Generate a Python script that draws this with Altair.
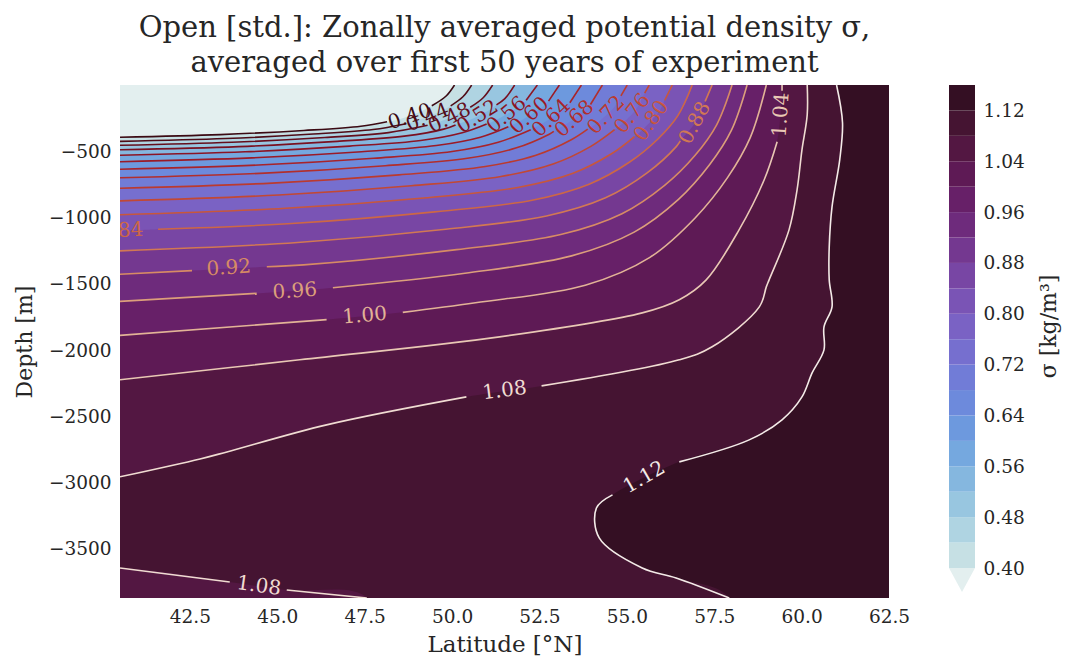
import altair as alt
import pandas as pd

FONT = "DejaVu Serif"
TEXT_COLOR = "#262626"

LAT_RANGE = [40.5, 62.5]
DEPTH_RANGE = [-3870, 0]

XTICKS = [42.5, 45.0, 47.5, 50.0, 52.5, 55.0, 57.5, 60.0, 62.5]
YTICKS = [-500, -1000, -1500, -2000, -2500, -3000, -3500]

LEVELS = ["0.40", "0.44", "0.48", "0.52", "0.56", "0.60", "0.64", "0.68", "0.72", "0.76",
          "0.80", "0.84", "0.88", "0.92", "0.96", "1.00", "1.04", "1.08", "1.12"]
LEVEL_VALUES = [0.40, 0.44, 0.48, 0.52, 0.56, 0.60, 0.64, 0.68, 0.72, 0.76,
                0.80, 0.84, 0.88, 0.92, 0.96, 1.00, 1.04, 1.08, 1.12]
TOP_LEVEL = 1.16
CB_TICKS = [0.40, 0.48, 0.56, 0.64, 0.72, 0.80, 0.88, 0.96, 1.04, 1.12]

# fill of the band just above each level (0.40-0.44 ... 1.12-1.16)
BAND_COLORS = ["#c6e0e4", "#afd4e2", "#98c6e0", "#85b7df", "#75a8df", "#6d99de",
               "#6d8adc", "#717cd7", "#766fcf", "#7a62c4", "#7a54b5", "#7846a4",
               "#743890", "#6e2b7c", "#672068", "#5e1a55", "#531742", "#451432",
               "#340f23"]
UNDER_COLOR = "#e3efef"

LINE_COLORS = ["#3b0a13", "#4f0c17", "#650e1c", "#7a1020", "#8c1424", "#9b1a27",
               "#a8232a", "#b22e2c", "#bb3a2f", "#c24834", "#c8573b", "#cd6745",
               "#d27853", "#d78b64", "#dc9f7b", "#e2b396", "#e9c8b4", "#f0dcd2",
               "#f4ebe8"]

# contour paths (latitude, depth); each gap (i, j) leaves the path undrawn
# between point i and point j, where the inline label sits
CONTOURS = [
    {"level": "0.40", "gaps": [(4, 7)], "points": [
        (40.5, -394), (43.37, -374), (45.76, -343), (47.39, -311), (48.14, -277),
        (48.35, -268), (49.02, -209), (49.42, -157), (49.83, -83), (50.07, 0)]},
    {"level": "0.44", "gaps": [(4, 7)], "points": [
        (40.5, -425), (43.52, -404), (46.03, -370), (47.74, -336), (48.65, -294),
        (48.75, -289), (49.45, -225), (49.96, -157), (50.31, -89), (50.56, 0)]},
    {"level": "0.48", "gaps": [(4, 6)], "points": [
        (40.5, -455), (43.70, -432), (46.36, -396), (48.18, -359), (49.30, -304),
        (49.99, -241), (50.52, -168), (50.89, -96), (51.16, 0)]},
    {"level": "0.52", "gaps": [(5, 8)], "points": [
        (40.5, -489), (43.89, -465), (46.71, -425), (48.63, -386), (49.76, -333),
        (50.10, -301), (50.55, -259), (51.11, -181), (51.27, -150), (51.51, -103),
        (51.79, 0)]},
    {"level": "0.56", "gaps": [(5, 8)], "points": [
        (40.5, -530), (44.08, -504), (47.07, -461), (49.10, -419), (50.29, -360),
        (50.99, -294), (51.13, -281), (51.72, -196), (52.12, -115), (52.44, 0)]},
    {"level": "0.60", "gaps": [(5, 8)], "points": [
        (40.5, -579), (44.27, -550), (47.41, -504), (49.55, -457), (50.81, -394),
        (51.61, -315), (51.69, -307), (52.32, -214), (52.76, -122), (53.07, 0)]},
    {"level": "0.64", "gaps": [(5, 7)], "points": [
        (40.5, -636), (44.46, -604), (47.76, -553), (50.00, -502), (51.32, -432),
        (52.25, -337), (52.91, -235), (53.37, -134), (53.70, 0)]},
    {"level": "0.68", "gaps": [(6, 8)], "points": [
        (40.5, -700), (44.64, -665), (48.09, -609), (50.44, -553), (51.82, -476),
        (52.78, -371), (52.91, -350), (53.47, -259), (53.96, -147), (54.30, 0)]},
    {"level": "0.72", "gaps": [(6, 9)], "points": [
        (40.5, -779), (44.85, -740), (48.48, -678), (50.95, -615), (52.40, -530),
        (53.41, -413), (53.88, -333), (54.14, -288), (54.65, -164), (54.83, -82),
        (55.01, 0)]},
    {"level": "0.76", "gaps": [(6, 9)], "points": [
        (40.5, -874), (45.04, -830), (48.83, -760), (51.40, -690), (52.91, -594),
        (53.97, -463), (54.65, -337), (54.73, -323), (55.26, -184), (55.51, -61),
        (55.64, 0)]},
    {"level": "0.80", "gaps": [(6, 9)], "points": [
        (40.5, -979), (45.24, -930), (49.19, -852), (51.88, -773), (53.46, -666),
        (54.56, -519), (55.22, -389), (55.35, -362), (55.91, -206), (56.08, -117),
        (56.30, 0)]},
    {"level": "0.84", "gaps": [(0, 1)], "points": [
        (40.5, -1100), (41.59, -1088), (45.41, -1045), (49.50, -957), (52.29, -869),
        (53.92, -748), (55.07, -583), (55.89, -407), (56.46, -231), (56.87, 0)]},
    {"level": "0.88", "gaps": [(7, 9)], "points": [
        (40.5, -1251), (45.58, -1188), (49.82, -1088), (52.70, -988), (54.39, -851),
        (55.58, -663), (56.42, -463), (56.53, -422), (57.02, -263), (57.24, -124),
        (57.44, 0)]},
    {"level": "0.92", "gaps": [(1, 2)], "points": [
        (40.5, -1428), (42.56, -1400), (44.70, -1371), (45.75, -1357), (50.13, -1242),
        (53.11, -1128), (54.86, -971), (56.08, -757), (56.96, -528), (57.57, -300),
        (58.01, 0)]},
    {"level": "0.96", "gaps": [(1, 2)], "points": [
        (40.5, -1632), (44.41, -1572), (46.59, -1529), (50.37, -1420), (53.42, -1289),
        (55.21, -1110), (56.47, -865), (57.36, -604), (57.99, -343), (58.44, 0)]},
    {"level": "1.00", "gaps": [(1, 2)], "points": [
        (40.5, -1889), (46.41, -1770), (48.59, -1715), (50.67, -1643), (53.81, -1510),
        (55.66, -1300), (56.96, -1001), (57.88, -699), (58.53, -397), (58.99, 0)]},
    {"level": "1.04", "gaps": [(8, 9)], "points": [
        (40.5, -2224), (45.64, -2073), (51.36, -1900), (55.44, -1719), (56.50, -1620),
        (57.27, -1470), (58.21, -1093), (58.93, -715), (59.30, -428), (59.44, -43),
        (59.44, 0)]},
    {"level": "1.08", "gaps": [(4, 5)], "points": [
        (40.5, -2956), (42.79, -2821), (43.56, -2768), (46.41, -2564), (50.41, -2353),
        (52.56, -2270), (56.50, -2073), (57.44, -1975), (58.79, -1674), (58.99, -1523),
        (59.07, -1470), (59.64, -1093), (59.87, -791), (60.01, -489), (60.16, -225),
        (60.16, 0)]},
    {"level": "1.08", "gaps": [(1, 2)], "points": [
        (40.5, -3644), (43.64, -3749), (45.27, -3810), (47.56, -3870)]},
    {"level": "1.12", "gaps": [(13, 14)], "points": [
        (61.00, 0), (61.17, -285), (61.09, -565), (60.87, -920), (60.79, -1222),
        (60.79, -1470), (60.87, -1674), (60.64, -1825), (60.64, -1998), (60.30, -2172),
        (60.01, -2353), (59.44, -2526), (58.50, -2677), (56.50, -2843), (54.59, -3092),
        (54.13, -3191), (54.21, -3417), (55.44, -3644), (56.41, -3719), (57.93, -3870)]},
]

# inline labels: level, latitude, depth, rotation (degrees, counter-clockwise)
LABELS = [
    ("0.40", 48.79, -240, 18), ("0.44", 49.30, -245, 22), ("0.48", 49.93, -250, 26),
    ("0.52", 50.73, -240, 32), ("0.56", 51.56, -225, 40), ("0.60", 52.21, -232, 42),
    ("0.64", 52.84, -250, 44), ("0.68", 53.50, -255, 42), ("0.72", 54.41, -228, 47),
    ("0.76", 55.16, -215, 52), ("0.80", 55.70, -270, 55), ("0.84", 40.53, -1100, 3),
    ("0.88", 56.95, -286, 62), ("0.92", 43.61, -1380, 4), ("0.96", 45.50, -1556, 4),
    ("1.00", 47.50, -1740, 5), ("1.04", 59.41, -225, 86), ("1.08", 51.50, -2305, 7),
    ("1.12", 55.50, -2960, 30), ("1.08", 44.47, -3779, -8),
]

lat_min, lat_max = LAT_RANGE
depth_min, depth_max = DEPTH_RANGE
# outline corners are pushed beyond the clipped frame so that the smooth
# interpolation only bends along the contour itself
far_w, far_e = lat_min - 10, lat_max + 10
far_top, far_bot = depth_max + 600, depth_min - 600


def region_above(level):
    """Closed outline of the area where sigma exceeds `level`."""
    parts = [c["points"] for c in CONTOURS if c["level"] == level]
    main = parts[0]
    if level == "1.12":
        return (main + [(main[-1][0], far_bot), (far_e, far_bot), (far_e, far_top),
                        (main[0][0], far_top)])
    if level == "1.08":
        lower = parts[1][::-1]
        return (main + [(main[-1][0], far_top), (far_e, far_top), (far_e, far_bot),
                        (lower[0][0], far_bot)] + lower
                + [(far_w, lower[-1][1]), (far_w, main[0][1])])
    return (main + [(main[-1][0], far_top), (far_e, far_top), (far_e, far_bot),
                    (far_w, far_bot), (far_w, main[0][1])])


x_enc = alt.X("lat:Q",
              scale=alt.Scale(domain=LAT_RANGE, nice=False, zero=False),
              axis=alt.Axis(values=XTICKS, format=".1f", title="Latitude [°N]",
                            labelFlush=False, labelOverlap=False, labelPadding=9,
                            titlePadding=8, titleFontSize=23))
y_enc = alt.Y("depth:Q",
              scale=alt.Scale(domain=DEPTH_RANGE, nice=False, zero=False),
              axis=alt.Axis(values=YTICKS, format="d", title="Depth [m]",
                            labelFlush=False, labelOverlap=False, labelPadding=9,
                            titlePadding=12))

SMOOTH = "catmull-rom"

# filled bands, painted from the lightest to the densest
fill_layers = []
for level, color in zip(LEVELS, BAND_COLORS):
    poly = pd.DataFrame(
        [{"idx": i, "lat": la, "depth": de} for i, (la, de) in enumerate(region_above(level))]
    )
    fill_layers.append(
        alt.Chart(poly).mark_line(filled=True, clip=True, interpolate=SMOOTH)
        .encode(x=x_enc, y=y_enc, order="idx:Q", color=alt.value(color))
    )

# contour lines, cut where the labels sit
rows = []
for n, c in enumerate(CONTOURS):
    pts = c["points"]
    cuts = [0]
    for i, j in c["gaps"]:
        cuts += [i + 1, j]
    cuts.append(len(pts))
    for k in range(0, len(cuts), 2):
        for i in range(cuts[k], cuts[k + 1]):
            rows.append({"level": c["level"], "seg": f"{n}-{k}", "idx": i,
                         "lat": pts[i][0], "depth": pts[i][1]})
line_df = pd.DataFrame(rows)

level_color = alt.Color("level:N", scale=alt.Scale(domain=LEVELS, range=LINE_COLORS), legend=None)

lines = alt.Chart(line_df).mark_line(strokeWidth=1.6, clip=True, interpolate=SMOOTH).encode(
    x=x_enc, y=y_enc, detail="seg:N", order="idx:Q", color=level_color
)

label_df = pd.DataFrame(
    [{"level": lv, "text": lv, "lat": la, "depth": de, "angle": (360 - rot) % 360}
     for lv, la, de, rot in LABELS]
)
labels = alt.Chart(label_df).mark_text(font=FONT, fontSize=20, clip=True).encode(
    x=x_enc, y=y_enc, text="text:N", angle=alt.Angle("angle:Q", scale=None), color=level_color
)

contour_plot = alt.layer(*fill_layers, lines, labels)

# colour bar with the lower extension triangle
cb_df = pd.DataFrame({"lo": LEVEL_VALUES, "hi": LEVEL_VALUES[1:] + [TOP_LEVEL], "band": LEVELS})
cb_y = alt.Y("lo:Q",
             scale=alt.Scale(domain=[0.3528, TOP_LEVEL], nice=False, zero=False),
             axis=alt.Axis(orient="right", offset=86, values=CB_TICKS, format=".2f",
                           title="σ [kg/m³]", titleAngle=270, titleX=73, titleY=241,
                           titleAlign="center", titleBaseline="middle",
                           labelFont=FONT, titleFont=FONT, labelFontSize=18.5,
                           titleFontSize=22, labelColor=TEXT_COLOR, titleColor=TEXT_COLOR,
                           titleFontWeight="normal",
                           labelPadding=8, labelFlush=False, labelOverlap=False))
cb_rects = alt.Chart(cb_df).mark_rect().encode(
    y=cb_y, y2="hi:Q", x=alt.value(829), x2=alt.value(855),
    fill=alt.Fill("band:N", scale=alt.Scale(domain=LEVELS, range=BAND_COLORS), legend=None),
)
cb_under = alt.Chart(pd.DataFrame({"lo": [LEVEL_VALUES[0]]})).mark_point(
    shape="M-1,0L1,0L0,1.85Z", size=676, filled=True, opacity=1, strokeWidth=0
).encode(y=cb_y, x=alt.value(842), color=alt.value(UNDER_COLOR))
colorbar = alt.layer(cb_rects, cb_under)

chart = (
    alt.layer(contour_plot, colorbar)
    .resolve_scale(y="independent", color="independent")
    .properties(
        width=769, height=513,
        autosize=alt.AutoSizeParams(type="none"),
        padding={"left": 120, "top": 85, "right": 176, "bottom": 61},
        title=alt.Title(
            ["Open [std.]: Zonally averaged potential density σ,",
             "averaged over first 50 years of experiment"],
            font=FONT, fontSize=29, fontWeight="normal", color=TEXT_COLOR,
            anchor="middle", lineHeight=35, offset=7),
    )
    .configure(background="white")
    .configure_view(fill=UNDER_COLOR, strokeWidth=0)
    .configure_axis(labelFont=FONT, titleFont=FONT, labelFontSize=18.5, titleFontSize=22,
                    labelColor=TEXT_COLOR, titleColor=TEXT_COLOR, titleFontWeight="normal",
                    ticks=False, domain=False, grid=False)
)

chart.save("out.html", embed_options={"renderer": "svg", "actions": False})
